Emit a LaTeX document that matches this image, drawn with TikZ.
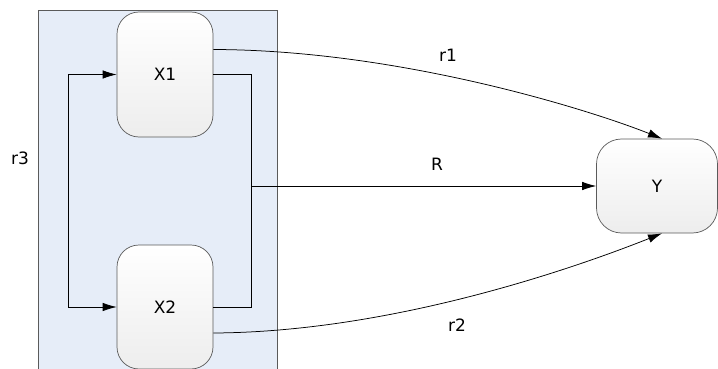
\documentclass[tikz,border=0pt]{standalone}
\usepackage{fontspec}
\setmainfont{DejaVu Sans}
\usetikzlibrary{arrows.meta}
\definecolor{panel}{HTML}{E6EDF8}
\definecolor{boxedge}{HTML}{5A5A5A}
\begin{document}
\begin{tikzpicture}[x=1pt,y=-1pt,
  box/.style={draw=boxedge, line width=0.7pt, rounded corners=22pt, top color=white, bottom color=black!7, font=\fontsize{17}{20}\selectfont, inner sep=0pt},
  conn/.style={draw=black, line width=0.75pt},
  arr/.style={conn, -{Latex[length=14pt,width=8.5pt]}},
  dbl/.style={conn, {Latex[length=14pt,width=8.5pt]}-{Latex[length=14pt,width=8.5pt]}},
  lbl/.style={font=\fontsize{17}{20}\selectfont, inner sep=0pt}]
\useasboundingbox (0,0) rectangle (718,369);
% panel
\path[fill=panel, draw=boxedge, line width=0.7pt] (38,10) rectangle (277,375);
% nodes
\node[box, minimum width=96pt, minimum height=125pt] (x1) at (165,74.5) {X1};
\node[box, minimum width=96pt, minimum height=124pt] (x2) at (165,307) {X2};
\node[box, rounded corners=25pt, minimum width=121pt, minimum height=94pt] (y) at (657,186) {Y};
% loops
\coordinate (la) at (68,74.5);
\coordinate (lb) at (68,307);
\coordinate (ra) at (251,74.5);
\coordinate (rb) at (251,307);
\coordinate (rm) at (251,186);
\draw[dbl] (x1.west) -- (la) -- (lb) -- (x2.west);
\draw[conn] (x1.east) -- (ra) -- (rb) -- (x2.east);
\draw[arr] (rm) -- (y.west);
% curves
\draw[arr] ([yshift=25pt]x1.east) .. controls (400,50) and (590,110) .. ([xshift=5pt]y.north);
\draw[arr] ([yshift=-26pt]x2.east) .. controls (400,332) and (590,262) .. ([xshift=5pt]y.south);
% labels
\node[lbl] (l1) at (448,55) {r1};
\node[lbl] (lR) at (437,164) {R};
\node[lbl] (l2) at (457,325) {r2};
\node[lbl] (l3) at (20,158) {r3};
\end{tikzpicture}
\end{document}
